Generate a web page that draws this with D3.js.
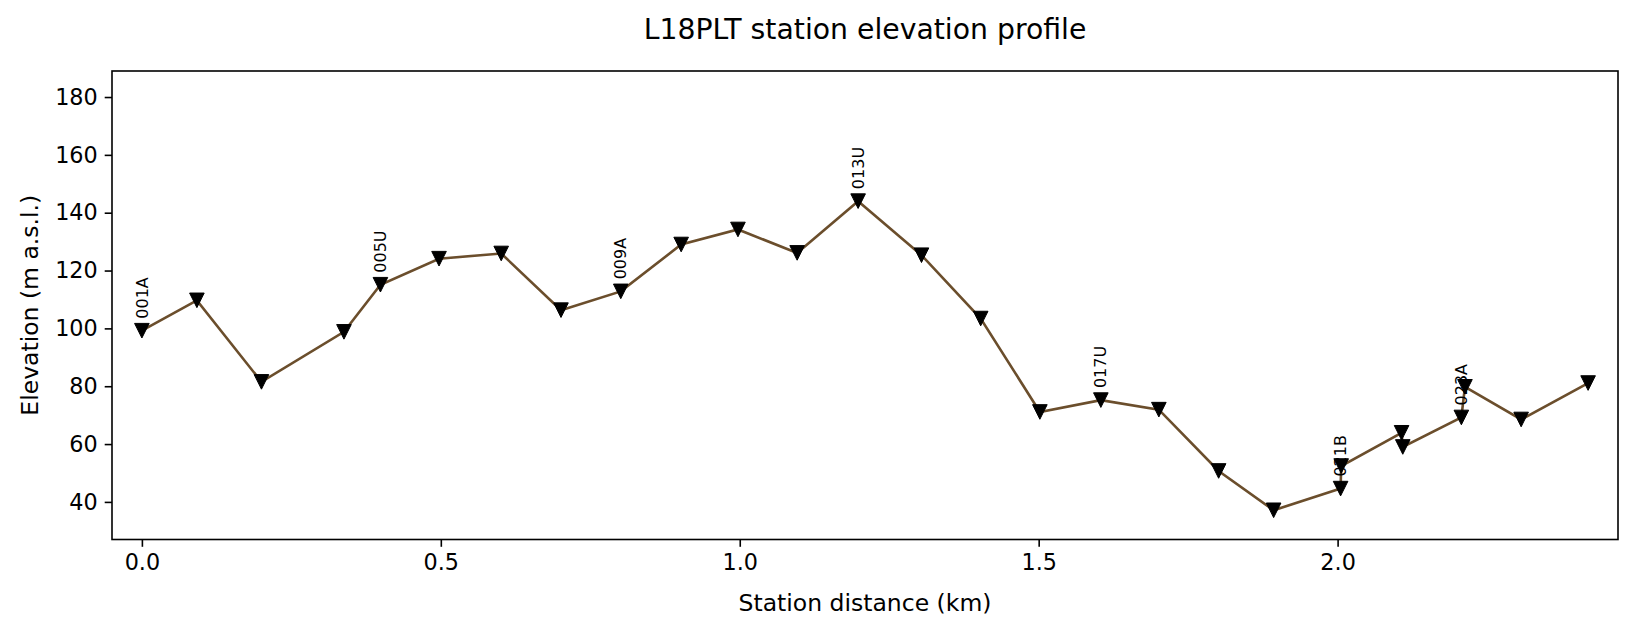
<!DOCTYPE html>
<html>
<head>
<meta charset="utf-8">
<script src="https://cdn.jsdelivr.net/npm/d3@7"></script>
<style>
  body { margin: 0; background: #fff; }
  svg { display: block; font-family: "DejaVu Sans", sans-serif; }
</style>
</head>
<body>
<div class="container"></div>
<script>
// station distance along the line (km) and elevation (m a.s.l.)
const distanceKm = [0.0, 0.092, 0.2, 0.338, 0.399, 0.497, 0.601, 0.701, 0.801, 0.902,
  0.997, 1.096, 1.198, 1.304, 1.403, 1.502, 1.604, 1.701, 1.801, 1.893,
  2.005, 2.006, 2.107, 2.109, 2.207, 2.213, 2.307, 2.419];
const elevationM = [99.2, 109.7, 81.5, 98.8, 115.1, 124.1, 125.9, 106.3, 112.8, 129.0,
  134.2, 126.1, 144.0, 125.3, 103.4, 71.1, 75.2, 71.9, 50.7, 37.1,
  44.6, 52.4, 63.9, 59.0, 69.2, 79.8, 68.5, 81.1];

// every 4th station gets a label
const labelIndex = [0, 4, 8, 12, 16, 20, 24];
const labelNames = ["001A", "005U", "009A", "013U", "017U", "021B", "023A"];

const xTicks = [0.0, 0.5, 1.0, 1.5, 2.0];
const yTicks = [40, 60, 80, 100, 120, 140, 160, 180];
const xDomain = [-0.05, 2.469];
const yDomain = [27, 189];

const data = distanceKm.map((d, i) => ({ km: d, elev: elevationM[i] }));

const W = 1634, H = 631;
const margin = { top: 71, right: 16, bottom: 91.5, left: 112 };
const width = W - margin.left - margin.right;
const height = H - margin.top - margin.bottom;

const svg = d3.select(".container")
  .append("svg")
  .attr("width", W)
  .attr("height", H);

const g = svg.append("g")
  .attr("transform", "translate(" + margin.left + "," + margin.top + ")");

const xScale = d3.scaleLinear().domain(xDomain).range([0, width]);
const yScale = d3.scaleLinear().domain(yDomain).range([height, 0]);

const xAxis = d3.axisBottom(xScale).tickValues(xTicks).tickFormat(d3.format(".1f"))
  .tickSizeInner(7.3).tickSizeOuter(0).tickPadding(7);
const yAxis = d3.axisLeft(yScale).tickValues(yTicks).tickFormat(d3.format("d"))
  .tickSizeInner(7.3).tickSizeOuter(0).tickPadding(7);

const gx = g.append("g")
  .attr("transform", "translate(0," + height + ")")
  .call(xAxis);
const gy = g.append("g").call(yAxis);

[gx, gy].forEach(ax => {
  ax.select(".domain").remove();
  ax.selectAll(".tick line").attr("stroke", "#000").attr("stroke-width", 1.6);
  ax.selectAll(".tick text")
    .attr("fill", "#000")
    .style("font-size", "22.3px")
    .style("font-family", "DejaVu Sans");
});

// profile line
const line = d3.line().x(d => xScale(d.km)).y(d => yScale(d.elev));
g.append("path")
  .datum(data)
  .attr("fill", "none")
  .attr("stroke", "#6b4e2c")
  .attr("stroke-width", 2.6)
  .attr("d", line);

// down-pointing triangle markers
const ms = 14.6;
const tri = d => {
  const p = d3.path();
  const cx = xScale(d.km), cy = yScale(d.elev), r = ms / 2;
  p.moveTo(cx - r, cy - r);
  p.lineTo(cx + r, cy - r);
  p.lineTo(cx, cy + r);
  p.closePath();
  return p.toString();
};
g.selectAll(".marker")
  .data(data)
  .enter()
  .append("path")
  .attr("class", "marker")
  .attr("d", tri)
  .attr("fill", "#000")
  .attr("stroke", "#000")
  .attr("stroke-width", 1);

// rotated station labels
g.selectAll(".stlabel")
  .data(labelIndex)
  .enter()
  .append("text")
  .attr("class", "stlabel")
  .attr("transform", i => "translate(" + xScale(distanceKm[i]) + "," + (yScale(elevationM[i]) - 12) + ") rotate(-90)")
  .attr("dy", "0.35em")
  .style("font-size", "16px")
  .style("text-anchor", "start")
  .attr("fill", "#000")
  .text((i, k) => labelNames[k]);

// frame
g.append("rect")
  .attr("width", width)
  .attr("height", height)
  .attr("fill", "none")
  .attr("stroke", "#000")
  .attr("stroke-width", 1.6);

// titles
svg.append("text")
  .attr("x", margin.left + width / 2)
  .attr("y", 39)
  .style("text-anchor", "middle")
  .style("font-size", "28.3px")
  .text("L18PLT station elevation profile");

svg.append("text")
  .attr("x", margin.left + width / 2)
  .attr("y", 611)
  .style("text-anchor", "middle")
  .style("font-size", "23.5px")
  .text("Station distance (km)");

svg.append("text")
  .attr("transform", "translate(38," + (margin.top + height / 2) + ") rotate(-90)")
  .style("text-anchor", "middle")
  .style("font-size", "23.5px")
  .text("Elevation (m a.s.l.)");
</script>
</body>
</html>
